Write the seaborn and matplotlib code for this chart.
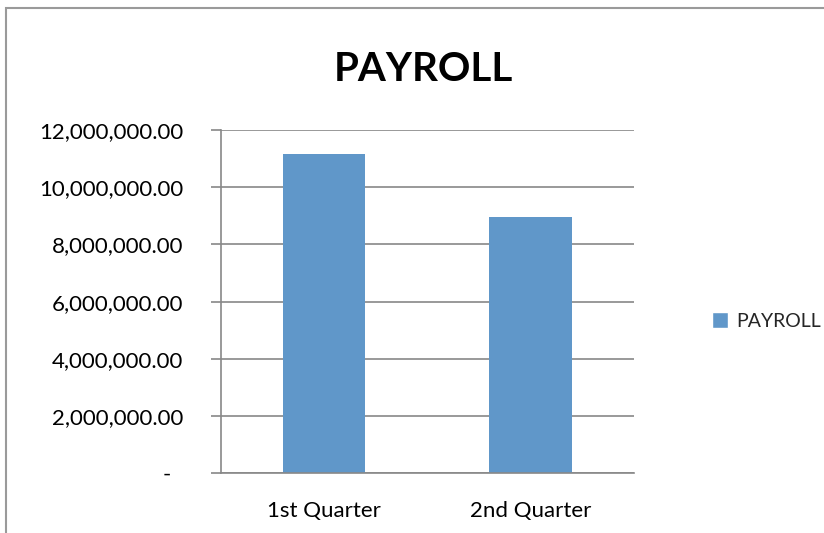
import matplotlib
matplotlib.use('Agg')
import matplotlib.pyplot as plt
import matplotlib.ticker as mticker
from matplotlib.patches import Patch, Rectangle
import pandas as pd
import seaborn as sns

# chart data
quarters = ['1st Quarter', '2nd Quarter']
payroll = [11170000, 8950000]
series_name = 'PAYROLL'
chart_title = 'PAYROLL'

bar_color = '#6097C9'
axis_gray = '#888888'

sns.set_theme(style='white')
plt.rcParams['font.family'] = ['Lato', 'DejaVu Sans']

df = pd.DataFrame({'quarter': quarters, 'payroll': payroll})

fig = plt.figure(figsize=(8.24, 5.33), dpi=100)
ax = fig.add_axes([0.2678, 0.112, 0.5012, 0.644])

sns.barplot(data=df, x='quarter', y='payroll', color=bar_color, width=0.4,
            saturation=1, ax=ax, edgecolor='none')

ax.set_ylim(0, 12000000)
ax.set_xlim(-0.5, 1.5)
ax.set_xlabel('')
ax.set_ylabel('')


def money(v, pos):
    if v == 0:
        return '-  '
    return f'{v:,.2f}'


ax.yaxis.set_major_locator(mticker.MultipleLocator(2000000))
ax.yaxis.set_major_formatter(mticker.FuncFormatter(money))
ax.grid(axis='y', color=axis_gray, linewidth=1.2)
ax.set_axisbelow(True)

# category boundaries carry the tick marks, labels sit in between
ax.set_xticks([-0.5, 0.5, 1.5])
ax.set_xticklabels(['', '', ''])
ax.set_xticks([0, 1], minor=True)
ax.set_xticklabels(quarters, minor=True)
ax.tick_params(axis='x', which='major', length=7, width=1.2, color=axis_gray, direction='out')
ax.tick_params(axis='x', which='minor', length=0, pad=20, labelsize=16, labelcolor='black')
ax.tick_params(axis='y', length=7, width=1.2, color=axis_gray, direction='out',
               pad=20, labelsize=16, labelcolor='black', left=True)

for side in ['top', 'right']:
    ax.spines[side].set_visible(False)
for side in ['left', 'bottom']:
    ax.spines[side].set_color(axis_gray)
    ax.spines[side].set_linewidth(1.2)

fig.text(0.514, 0.87, chart_title, ha='center', va='center',
         fontsize=29, fontweight='bold', color='black')

fig.legend(handles=[Patch(facecolor=bar_color, label=series_name)],
           loc='center left', bbox_to_anchor=(0.864, 0.398), frameon=False,
           fontsize=14, handlelength=0.85, handleheight=0.85, handletextpad=0.4,
           borderpad=0, borderaxespad=0)

# chart frame, clipped at the right and bottom like the reference
fig.patches.append(Rectangle((6 / 824, -0.1), 1.2, (533 - 8) / 533 + 0.1,
                             transform=fig.transFigure, fill=False,
                             edgecolor='#9a9a9a', linewidth=1.5))

fig.savefig('out.png', dpi=100)
